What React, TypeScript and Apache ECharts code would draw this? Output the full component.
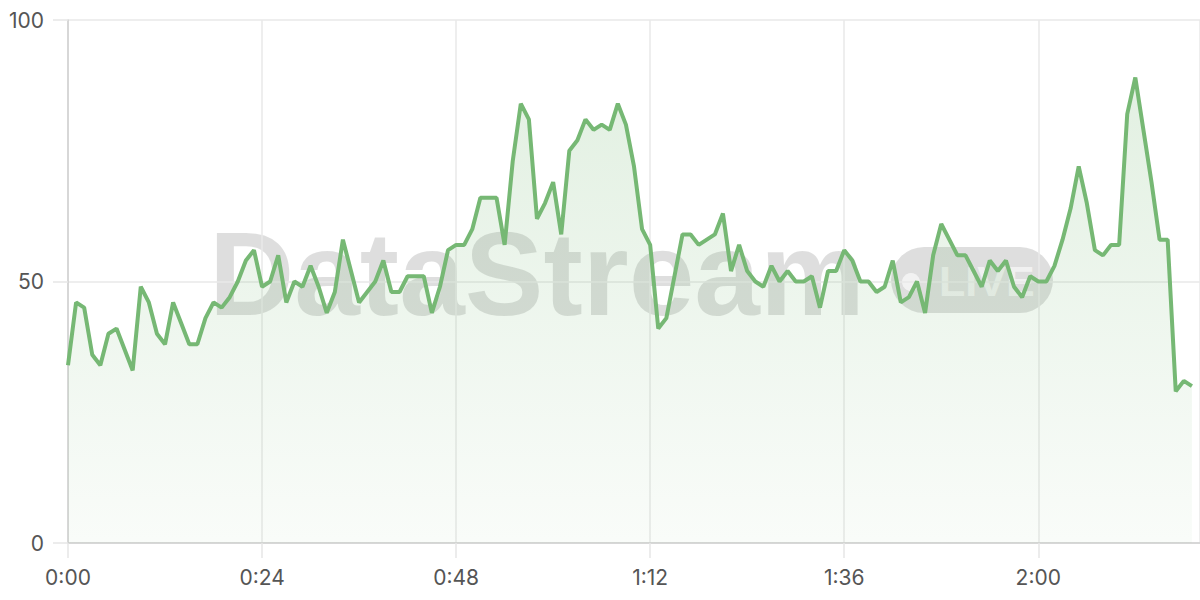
import React, { useEffect, useRef } from "react";
import * as echarts from "echarts";

const values: number[] = [
  34, 46, 45, 36, 34, 40, 41, 37, 33, 49,
  46, 40, 38, 46, 42, 38, 38, 43, 46, 45,
  47, 50, 54, 56, 49, 50, 55, 46, 50, 49,
  53, 49, 44, 48, 58, 52, 46, 48, 50, 54,
  48, 48, 51, 51, 51, 44, 49, 56, 57, 57,
  60, 66, 66, 66, 57, 73, 84, 81, 62, 65,
  69, 59, 75, 77, 81, 79, 80, 79, 84, 80,
  72, 60, 57, 41, 43, 51, 59, 59, 57, 58,
  59, 63, 52, 57, 52, 50, 49, 53, 50, 52,
  50, 50, 51, 45, 52, 52, 56, 54, 50, 50,
  48, 49, 54, 46, 47, 50, 44, 55, 61, 58,
  55, 55, 52, 49, 54, 52, 54, 49, 47, 51,
  50, 50, 53, 58, 64, 72, 65, 56, 55, 57,
  57, 82, 89, 79, 69, 58, 58, 29, 31, 30,
];

const X_MAX_SECONDS = 140;
const X_TICK_SECONDS = 24;
const Y_TICKS = [0, 50, 100];

const LINE = "#76b874";

function fmtTime(v: number): string {
  const m = Math.floor(v / 60);
  const s = Math.round(v % 60);
  return `${m}:${String(s).padStart(2, "0")}`;
}

export default function App() {
  const ref = useRef<HTMLDivElement>(null);

  useEffect(() => {
    if (!ref.current) return;
    const chart = echarts.init(ref.current, undefined, { renderer: "svg" });
    const data = values.map((v, i) => [i, v]);
    chart.setOption({
      animation: false,
      backgroundColor: "#ffffff",
      grid: { left: 68, right: 0, top: 20, bottom: 57, containLabel: false },
      graphic: [
        {
          type: "group",
          z: 1,
          silent: true,
          children: [
            {
              type: "text",
              x: 209,
              y: 274,
              style: {
                text: "DataStream",
                font: "bold 118px 'Liberation Sans', Arial, sans-serif",
                fill: "rgba(0,0,0,0.13)",
                textAlign: "left",
                textVerticalAlign: "middle",
              },
            },
            {
              type: "rect",
              shape: { x: 891, y: 247, width: 162, height: 66, r: 33 },
              style: { fill: "rgba(0,0,0,0.13)" },
            },
            {
              type: "circle",
              shape: { cx: 911, cy: 282, r: 9 },
              style: { fill: "rgba(255,255,255,0.6)" },
            },
            {
              type: "text",
              x: 939,
              y: 281,
              style: {
                text: "LIVE",
                font: "bold 43px 'Liberation Sans', Arial, sans-serif",
                fill: "rgba(255,255,255,0.6)",
                textAlign: "left",
                textVerticalAlign: "middle",
              },
            },
          ],
        },
      ],
      xAxis: {
        type: "value",
        min: 0,
        max: X_MAX_SECONDS,
        interval: X_TICK_SECONDS,
        axisLine: { show: true, lineStyle: { color: "#cfcfcf", width: 1.5 } },
        axisTick: { show: true, length: 15, lineStyle: { color: "#e6e6e6", width: 1.5 } },
        axisLabel: {
          showMaxLabel: false,
          margin: 24,
          color: "#555555",
          fontSize: 21,
          fontFamily: "Inter, 'Noto Sans', sans-serif",
          formatter: (v: number) => (v >= X_MAX_SECONDS ? "" : fmtTime(v)),
        },
        splitLine: { show: true, lineStyle: { color: "#e8e8e8", width: 1.5 } },
      },
      yAxis: {
        type: "value",
        min: Y_TICKS[0],
        max: Y_TICKS[Y_TICKS.length - 1],
        interval: Y_TICKS[1] - Y_TICKS[0],
        axisLine: { show: true, lineStyle: { color: "#cfcfcf", width: 1.5 } },
        axisTick: { show: true, length: 15, lineStyle: { color: "#e6e6e6", width: 1.5 } },
        axisLabel: {
          margin: 24,
          color: "#555555",
          fontSize: 21,
          fontFamily: "Inter, 'Noto Sans', sans-serif",
        },
        splitLine: { show: true, lineStyle: { color: "#e8e8e8", width: 1.5 } },
      },
      series: [
        {
          type: "line",
          data,
          z: 3,
          showSymbol: false,
          symbol: "none",
          lineStyle: { color: LINE, width: 4 },
          itemStyle: { color: LINE },
          areaStyle: {
            color: new echarts.graphic.LinearGradient(0, 0, 0, 1, [
              { offset: 0, color: "rgba(118,184,116,0.30)" },
              { offset: 1, color: "rgba(118,184,116,0.06)" },
            ]),
          },
        },
      ],
    });
    return () => chart.dispose();
  }, []);

  return (
    <div
      ref={ref}
      style={{ width: 1200, height: 600, position: "absolute", left: 0, top: 0 }}
    />
  );
}
